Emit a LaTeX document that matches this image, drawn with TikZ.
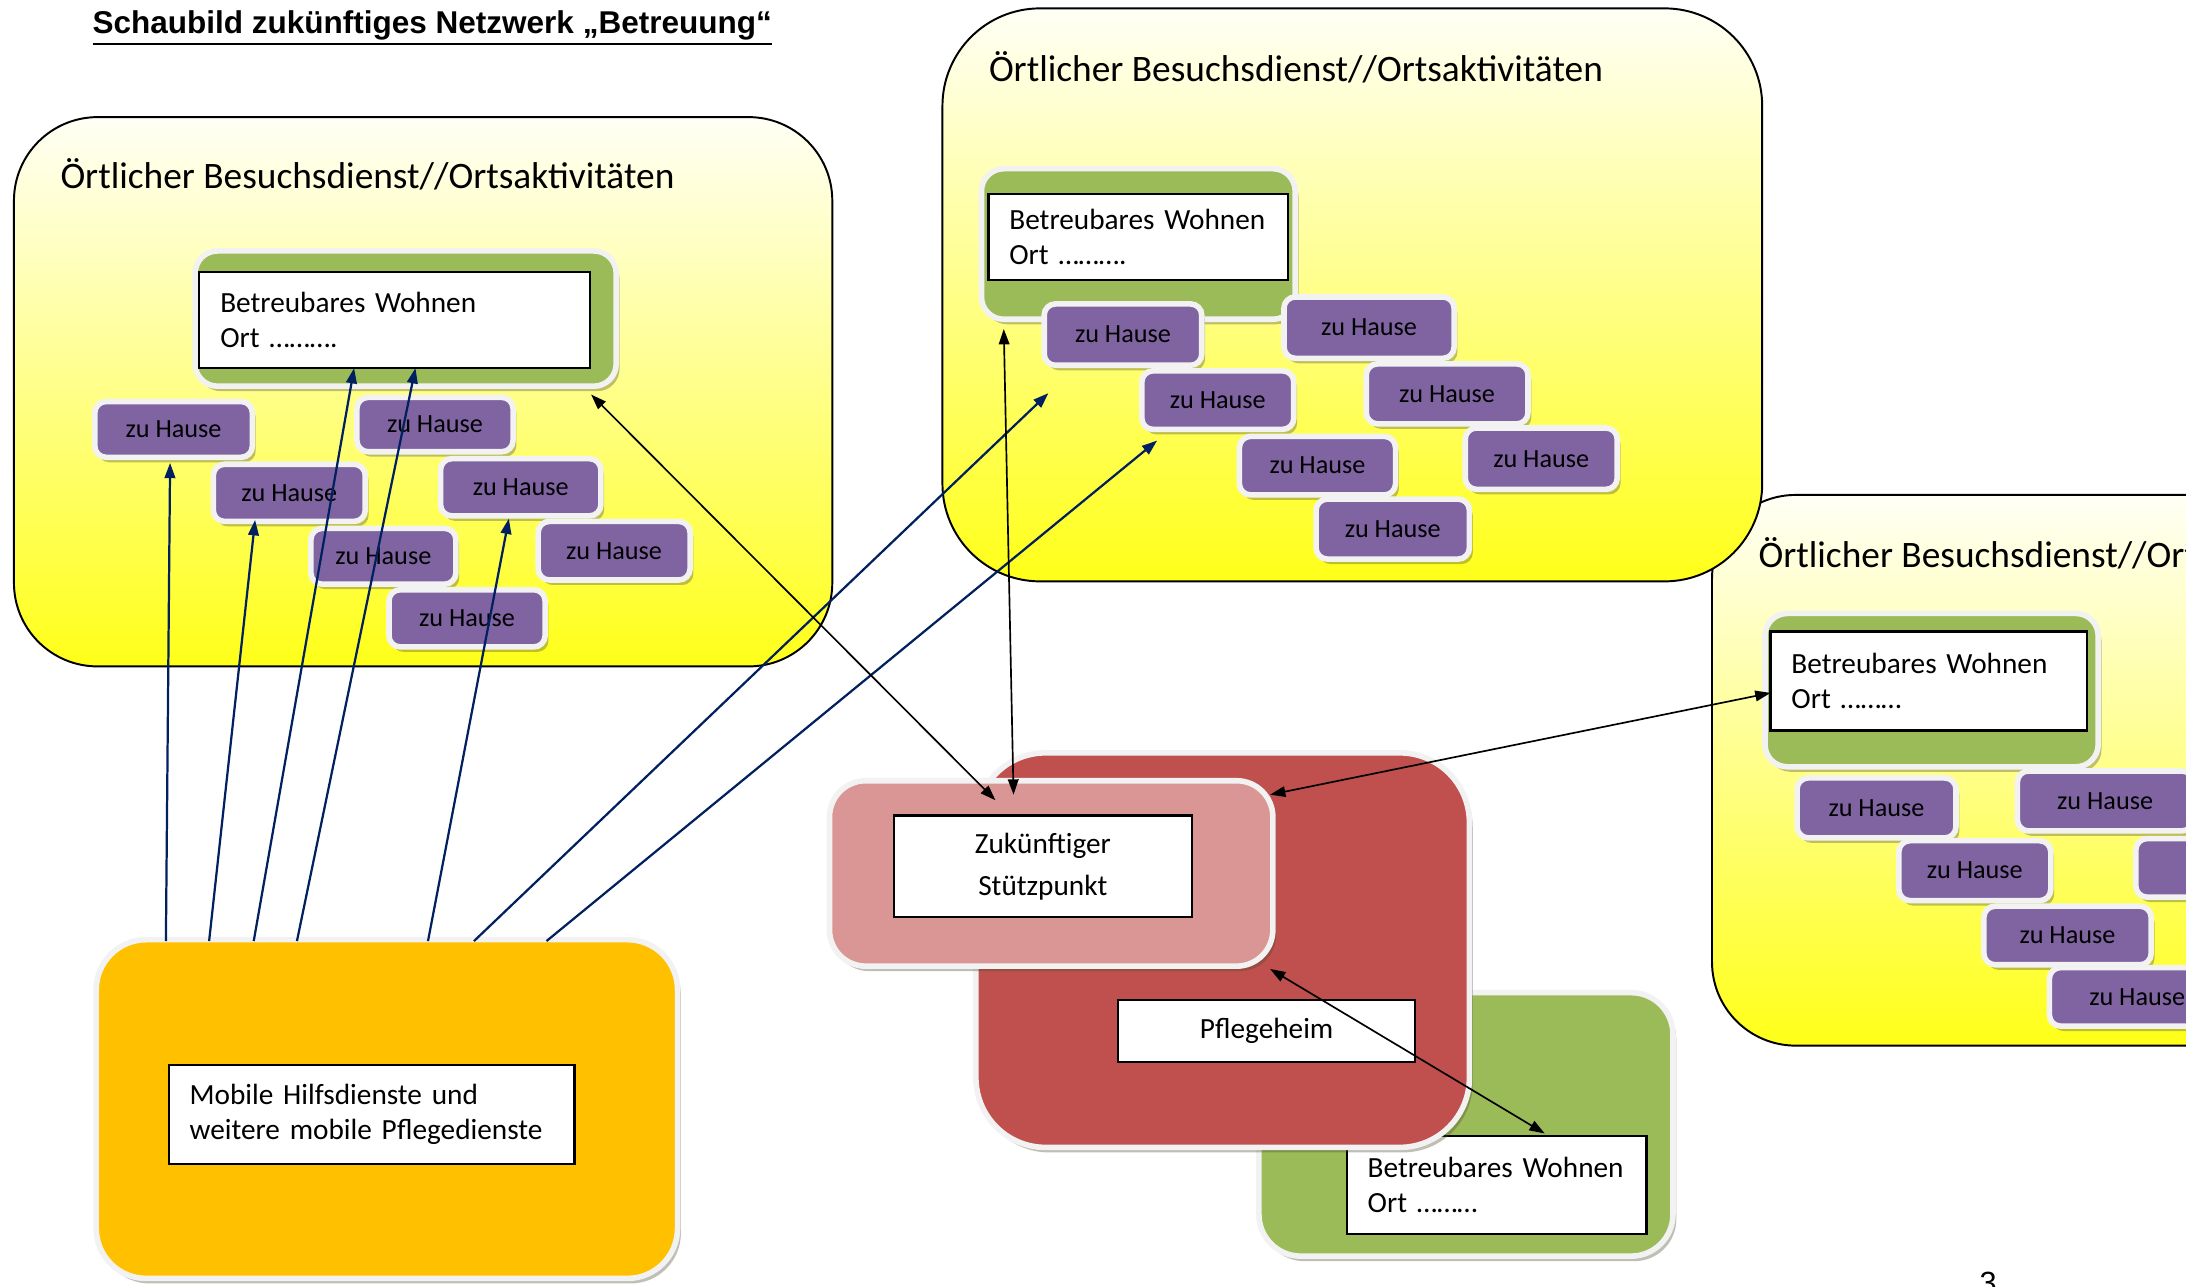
\documentclass[tikz,border=0pt]{standalone}
\usepackage{fontspec}
\setmainfont{Carlito}
\newfontfamily\arialfont{Liberation Sans}
\usetikzlibrary{shadows,arrows.meta}
\definecolor{cPurple}{RGB}{128,100,162}
\definecolor{cGreen}{RGB}{155,187,89}
\definecolor{cRed}{RGB}{192,80,77}
\definecolor{cPink}{RGB}{217,150,148}
\definecolor{cOrange}{RGB}{255,192,0}
\definecolor{cNavy}{RGB}{0,32,96}
\definecolor{cRim}{RGB}{242,242,242}
\definecolor{cYelTop}{RGB}{255,255,246}
\definecolor{cYelBot}{RGB}{255,255,25}
\tikzset{
  yel/.style={draw=black, line width=0.7pt, top color=cYelTop, bottom color=cYelBot, inner sep=0pt},
  sa/.style={draw=cRim, line width=2pt, inner sep=0pt, drop shadow={shadow xshift=1.2pt, shadow yshift=-1.8pt, fill=black!60!olive, opacity=0.35}},
  zh/.style={sa, fill=cPurple, rounded corners=4pt, font=\fontsize{9.4}{11}\selectfont},
  gbox/.style={sa, fill=cGreen, rounded corners=8pt},
  wb/.style={draw=black, line width=0.8pt, fill=white, inner xsep=7.5pt, inner ysep=0pt, align=left, font=\fontsize{10.5}{12.5}\selectfont},
  ttl/.style={anchor=base west, inner sep=0pt, font=\fontsize{13.4}{16}\selectfont},
  navyarr/.style={cNavy, line width=0.8pt, -{Triangle[length=5.5pt,width=3.8pt]}},
  blkarr/.style={black, line width=0.6pt, {Triangle[length=5.5pt,width=3.8pt]}-{Triangle[length=5.5pt,width=3.8pt]}},
}
\begin{document}
\begin{tikzpicture}[x=0.5pt,y=-0.5pt]
\useasboundingbox (0,0) rectangle (1568,923);
\clip (0,0) rectangle (1568,923);
\fill[white] (0,0) rectangle (1568,923);

% ---------- box 3 (right) ----------
\node[yel, rounded corners=30pt, minimum width=294pt, minimum height=197.5pt] (ort3) at (1522,552.5) {};
\node[ttl] (ttl3) at (1261,407) {Örtlicher Besuchsdienst//Ortsaktivitäten};
\node[gbox, minimum width=119.5pt, minimum height=55pt] (g3) at (1385.5,495) {};
\node[wb, minimum width=113.5pt, minimum height=35.5pt, text width=98.5pt] (w3) at (1383.5,488.5) {Betreubares Wohnen\\Ort ………};
\node[zh, minimum width=57pt, minimum height=21.5pt] (z31) at (1346,579.5) {zu Hause};
\node[zh, minimum width=63pt, minimum height=21.5pt] (z32) at (1510,574.5) {zu Hause};
\node[zh, minimum width=54.5pt, minimum height=21.5pt] (z33) at (1416.5,624.5) {zu Hause};
\node[zh, minimum width=90pt, minimum height=21pt] (z34) at (1622,622.5) {zu Hause};
\node[zh, minimum width=60pt, minimum height=21pt] (z35) at (1483,671) {zu Hause};
\node[zh, minimum width=63pt, minimum height=21pt] (z36) at (1533,715) {zu Hause};

% ---------- box 2 (top middle) ----------
\node[yel, rounded corners=35pt, minimum width=294pt, minimum height=205.5pt] (ort2) at (970,211.5) {};
\node[ttl] (ttl2) at (709,58.5) {Örtlicher Besuchsdienst//Ortsaktivitäten};
\node[gbox, minimum width=112.5pt, minimum height=54pt] (g2) at (816.5,175) {};
\node[wb, minimum width=107.5pt, minimum height=31pt, text width=92.5pt] (w2) at (816.5,170) {Betreubares Wohnen\\Ort ……….};
\node[zh, minimum width=56.5pt, minimum height=22pt] (z21) at (805.5,240) {zu Hause};
\node[zh, minimum width=61pt, minimum height=22pt] (z22) at (982,235) {zu Hause};
\node[zh, minimum width=54.5pt, minimum height=21pt] (z23) at (873.5,287) {zu Hause};
\node[zh, minimum width=58pt, minimum height=21.5pt] (z24) at (1038,282.5) {zu Hause};
\node[zh, minimum width=56pt, minimum height=21pt] (z25) at (945,334) {zu Hause};
\node[zh, minimum width=54.5pt, minimum height=22pt] (z26) at (1105.5,329) {zu Hause};
\node[zh, minimum width=55pt, minimum height=21.5pt] (z27) at (999,379.5) {zu Hause};

% ---------- box 1 (left) ----------
\node[yel, rounded corners=30pt, minimum width=293.5pt, minimum height=197pt] (ort1) at (303.5,281) {};
\node[ttl] (ttl1) at (43,135.5) {Örtlicher Besuchsdienst//Ortsaktivitäten};
\node[gbox, minimum width=151pt, minimum height=48.5pt] (g1) at (291,228.5) {};
\node[wb, minimum width=140pt, minimum height=34.5pt, text width=125pt] (w1) at (283,229.5) {Betreubares Wohnen\\Ort ……….};
\node[zh, minimum width=56.5pt, minimum height=20pt] (z11) at (124.5,308) {zu Hause};
\node[zh, minimum width=56pt, minimum height=19.5pt] (z12) at (312,304.5) {zu Hause};
\node[zh, minimum width=54.5pt, minimum height=20.5pt] (z13) at (207.5,353.5) {zu Hause};
\node[zh, minimum width=57.5pt, minimum height=20.5pt] (z14) at (373.5,349.5) {zu Hause};
\node[zh, minimum width=52pt, minimum height=20pt] (z15) at (275,399) {zu Hause};
\node[zh, minimum width=54.5pt, minimum height=21pt] (z16) at (440.5,395) {zu Hause};
\node[zh, minimum width=56pt, minimum height=20.5pt] (z17) at (335,443.5) {zu Hause};

% ---------- centre cluster ----------
\node[sa, fill=cGreen, rounded corners=15pt, minimum width=148.5pt, minimum height=94.5pt] (g4) at (1051.5,806.5) {};
\node[wb, minimum width=107.5pt, minimum height=35pt, text width=92.5pt] (w4) at (1073.5,850) {Betreubares Wohnen\\Ort ………};
\node[sa, fill=cRed, rounded corners=25pt, minimum width=177pt, minimum height=141.5pt] (red) at (877,681.5) {};
\node[sa, fill=cPink, rounded corners=13pt, minimum width=159pt, minimum height=66.5pt] (pink) at (754,626.5) {};
\node[wb, align=center, font=\fontsize{10.5}{15}\selectfont, minimum width=107pt, minimum height=36.5pt] (zuk) at (748,621.5) {Zukünftiger\\Stützpunkt};
\node[wb, align=center, minimum width=106.5pt, minimum height=22.5pt] (pfl) at (908.5,739.5) {Pflegeheim};

% ---------- mobile services ----------
\node[sa, fill=cOrange, rounded corners=18pt, minimum width=208.5pt, minimum height=121.5pt] (mob) at (277.5,795.5) {};
\node[wb, minimum width=145.5pt, minimum height=35.5pt, text width=130.5pt] (wm) at (266.5,799.5) {Mobile Hilfsdienste und\\weitere mobile Pflegedienste};

% ---------- connectors ----------
\coordinate (m1) at (119,675); \coordinate (t1) at (122,332);
\coordinate (m2) at (150,675); \coordinate (t2) at (183,373);
\coordinate (m3) at (182,675); \coordinate (t3) at (254,264);
\coordinate (m4) at (213,675); \coordinate (t4) at (298,264);
\coordinate (m5) at (307,675); \coordinate (t5) at (365,372);
\coordinate (m6) at (340,675); \coordinate (t6) at (752,282);
\coordinate (m7) at (392,675); \coordinate (t7) at (830,316);
\draw[navyarr] (m1) -- (t1);
\draw[navyarr] (m2) -- (t2);
\draw[navyarr] (m3) -- (t3);
\draw[navyarr] (m4) -- (t4);
\draw[navyarr] (m5) -- (t5);
\draw[navyarr] (m6) -- (t6);
\draw[navyarr] (m7) -- (t7);

\coordinate (b1a) at (424,283); \coordinate (b1b) at (714,574);
\coordinate (b2a) at (720,236); \coordinate (b2b) at (727,570);
\coordinate (b3a) at (1270,497); \coordinate (b3b) at (911,570);
\coordinate (b4a) at (911,695); \coordinate (b4b) at (1108,813);
\draw[blkarr] (b1a) -- (b1b);
\draw[blkarr] (b2a) -- (b2b);
\draw[blkarr] (b3a) -- (b3b);
\draw[blkarr] (b4a) -- (b4b);

% ---------- title and page number ----------
\node[anchor=base west, inner sep=0pt, font=\arialfont\bfseries\fontsize{11.3}{13}\selectfont] (title) at (66,24) {\underline{Schaubild zukünftiges Netzwerk „Betreuung“}};
\node[anchor=north, inner sep=0pt, font=\arialfont\fontsize{11}{13}\selectfont] (pg) at (1426,912) {3};
\end{tikzpicture}
\end{document}
